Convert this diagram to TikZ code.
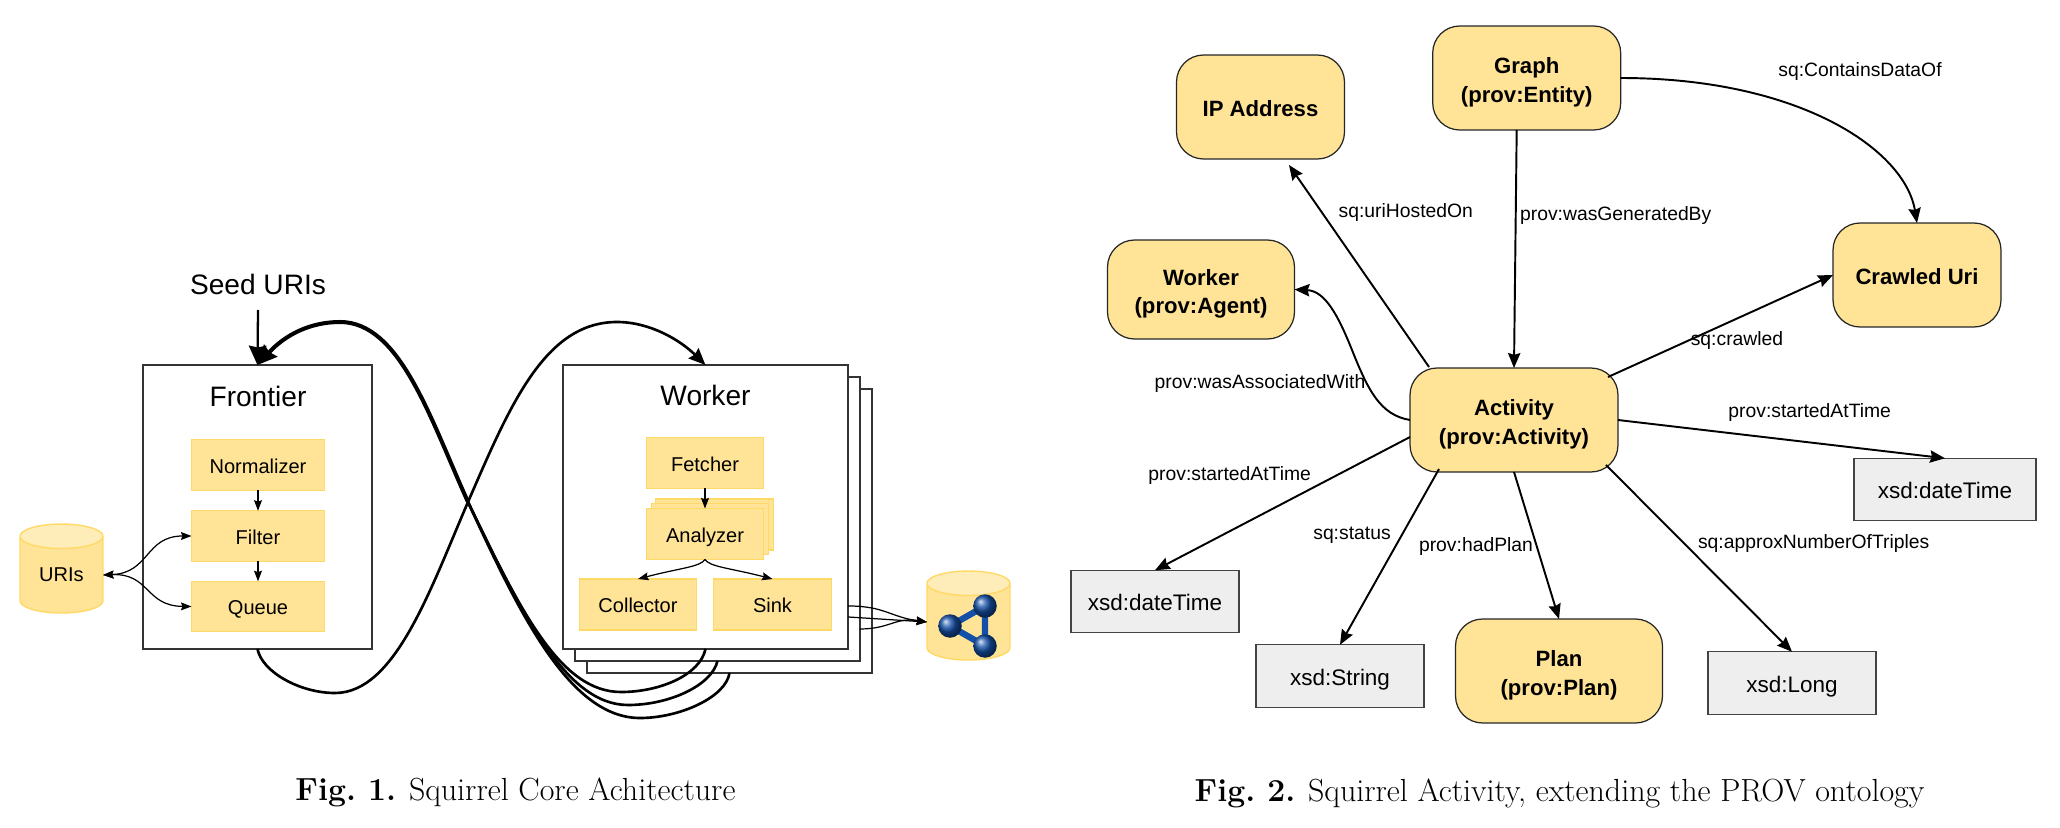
\documentclass[tikz,border=0pt]{standalone}
\usepackage{fontspec}
\newfontfamily\drawfont{Liberation Sans}
\usetikzlibrary{arrows.meta,shapes.geometric}
\definecolor{boxfill}{HTML}{FFE396}
\definecolor{boxline}{HTML}{FFD966}
\definecolor{rimfill}{HTML}{FFEDB9}
\definecolor{greyfill}{HTML}{EEEEEE}
\definecolor{greyline}{HTML}{434343}
\definecolor{ballblue}{HTML}{1450A8}
\newcommand{\topgap}{\rule{0pt}{14pt}}
\tikzset{
    every node/.style={inner sep=0pt, outer sep=0pt},
    bigtext/.style={font=\drawfont\fontsize{16}{19}\selectfont},
    comp/.style={draw=boxline, fill=boxfill, line width=0.6pt, text height=9.6pt, text depth=0pt,
        font=\drawfont\fontsize{11.4}{14}\selectfont},
    frontcomp/.style={comp, minimum width=2.66cm, minimum height=1.01cm},
    workcomp/.style={comp, minimum width=2.35cm, minimum height=1.02cm},
    frame/.style={draw=black!80, fill=white, line width=0.8pt, minimum width=5.7cm, minimum height=5.68cm},
    store/.style={cylinder, shape border rotate=90, aspect=0.55, draw=boxline, line width=0.8pt,
        cylinder uses custom fill, cylinder body fill=boxfill, cylinder end fill=rimfill,
        minimum width=1.66cm, minimum height=1.78cm, font=\drawfont\fontsize{11.4}{14}\selectfont},
    thing/.style={draw=black!85, fill=boxfill, rounded corners=0.54cm, line width=0.7pt, align=center,
        minimum width=3.36cm, minimum height=2.08cm, font=\drawfont\bfseries\fontsize{12.6}{16.2}\selectfont},
    oneliner/.style={thing, text height=10.5pt, text depth=0pt},
    literal/.style={draw=greyline, fill=greyfill, line width=0.8pt, minimum width=3.36cm, minimum height=1.25cm,
        text height=10.3pt, text depth=0pt, font=\drawfont\fontsize{12.8}{15}\selectfont},
    edgetext/.style={font=\drawfont\fontsize{11}{13}\selectfont},
    captext/.style={font=\fontsize{18.2}{22}\selectfont},
    flow/.style={line width=0.7pt, -{Stealth[inset=0.8pt,length=6pt,width=4.5pt]}},
    bothflow/.style={line width=0.7pt, {Stealth[inset=0.8pt,length=6pt,width=4.5pt]}-{Stealth[inset=0.8pt,length=6pt,width=4.5pt]}},
    link/.style={line width=1.1pt, -{Stealth[inset=1pt,length=8.5pt,width=7pt]}},
    loopline/.style={line width=1.5pt}
}
\begin{document}
\begin{tikzpicture}[x=0.02cm,y=-0.02cm]
    \useasboundingbox (0,0) rectangle (2060,828);

    % Frontier
    \node[bigtext] (seed) at (258,284) {Seed URIs};
    \node[frame, minimum width=4.58cm] (frontier) at (257.5,507) {};
    \node[bigtext] (frontiertitle) at (258,396) {Frontier};
    \node[frontcomp] (normalizer) at (258,465) {Normalizer};
    \node[frontcomp] (filter) at (258,536) {Filter};
    \node[frontcomp] (queue) at (258,606.5) {Queue};
    \node[store] (uris) at (61.5,575) {URIs};

    \draw[flow] (normalizer) -- (filter);
    \draw[flow] (filter) -- (queue);
    \draw[bothflow] (uris.east) .. controls (150,573) and (145,536) .. (filter.west);
    \draw[bothflow] (uris.east) .. controls (150,573) and (145,606) .. (queue.west);

    % Worker stack
    \node[frame] (worker3) at (729.5,531) {};
    \node[frame] (worker2) at (717.5,519) {};
    \node[frame] (worker1) at (705.5,507) {};
    \node[bigtext] (workertitle) at (705.5,395) {Worker};
    \node[workcomp] (fetcher) at (705,463) {Fetcher};
    \node[workcomp] (analyzer3) at (714.5,524.5) {};
    \node[workcomp] (analyzer2) at (709.8,529.2) {};
    \node[workcomp] (analyzer) at (705,534) {Analyzer};
    \node[workcomp] (collector) at (638,604.5) {Collector};
    \node[workcomp] (sink) at (772.5,604.5) {Sink};

    \draw[flow] (fetcher) -- (analyzer);
    \draw[flow] (analyzer.south) .. controls (700,567) and (680,568) .. (collector.north);
    \draw[flow] (analyzer.south) .. controls (710,567) and (730,568) .. (sink.north);

    % Triple store
    \node[store] (store) at (968.5,622) {\phantom{URIs}};
    \draw[ballblue, line width=3.6pt] (985,606) -- (950,626) -- (985,646) -- cycle;
    \shade[ball color=ballblue] (985,606) circle (0.235cm);
    \shade[ball color=ballblue] (950,626) circle (0.235cm);
    \shade[ball color=ballblue] (985,646) circle (0.235cm);

    \draw[flow] ([yshift=-1.98cm]worker1.east) .. controls (885,606) and (890,617) .. (store.west);
    \draw[flow] ([yshift=-2.2cm]worker1.east) -- (store.west);
    \draw[flow] ([yshift=-2.2cm]worker2.east) .. controls (890,629) and (895,617) .. (store.west);

    % Loop between frontier and workers
    \draw[loopline, -{Stealth[inset=1pt,length=9.5pt,width=8pt]}] (frontier.south) .. controls (262,672) and (300,693) .. (335,693)
        .. controls (395,693) and (430,590) .. (468,502)
        .. controls (510,405) and (545,322) .. (617,322)
        .. controls (650,322) and (680,340) .. (worker1.north);
    \draw[loopline] (worker1.south) .. controls (700,675) and (660,692) .. (621,692)
        .. controls (560,692) and (520,610) .. (468,502);
    \draw[loopline] (worker2.south) .. controls (712,685) and (670,705) .. (628,705)
        .. controls (565,705) and (520,610) .. (468,502);
    \draw[loopline] (worker3.south) .. controls (726,697) and (680,718) .. (640,718)
        .. controls (570,718) and (520,615) .. (468,502);
    \draw[line width=2.3pt, -{Stealth[inset=1pt,length=11pt,width=10pt]}] (468,502) .. controls (430,418) and (400,322) .. (340,322)
        .. controls (310,322) and (285,335) .. (frontier.north);
    \draw[line width=1.3pt, -{Stealth[inset=1pt,length=11pt,width=10pt]}] (seed.south |- 0,310) -- (frontier.north);

    % Activity graph
    \node[oneliner] (ip) at (1260.5,107) {IP Address};
    \node[thing, minimum width=3.76cm] (graph) at (1526.7,78) {\topgap Graph\\(prov:Entity)};
    \node[thing, minimum width=3.74cm, minimum height=1.98cm] (agent) at (1201,289.5) {\topgap Worker\\(prov:Agent)};
    \node[oneliner] (crawled) at (1917,275) {Crawled Uri};
    \node[thing, minimum width=4.16cm] (activity) at (1514,420) {\topgap Activity\\(prov:Activity)};
    \node[thing, minimum width=4.14cm] (plan) at (1559,671) {\topgap Plan\\(prov:Plan)};
    \node[literal] (dateleft) at (1155,601.5) {xsd:dateTime};
    \node[literal] (stringtype) at (1340,676) {xsd:String};
    \node[literal] (longtype) at (1792,683) {xsd:Long};
    \node[literal, minimum width=3.64cm] (dateright) at (1945,489.5) {xsd:dateTime};

    \draw[link] ([xshift=-0.2cm]graph.south) -- (activity.north);
    \draw[link] (graph.east) .. controls (1800,78) and (1905,150) .. (crawled.north);
    \draw[link] ([shift={(19,-1)}]activity.north west) -- ([shift={(28.5,6)}]ip.south);
    \draw[link] (activity.west) .. controls (1380,415) and (1368,390) .. (1352,350)
        .. controls (1338,315) and (1325,291) .. (agent.east);
    \draw[link] ([shift={(-10,9)}]activity.north east) -- (crawled.west);
    \draw[link] (activity.east) -- (dateright.north);
    \draw[link] ([shift={(0,17)}]activity.west) -- (dateleft.north);
    \draw[link] ([shift={(29,-3)}]activity.south west) -- (stringtype.north);
    \draw[link] (activity.south) -- (plan.north);
    \draw[link] ([shift={(-12,-7)}]activity.south east) -- (longtype.north);

    % Labels
    \node[edgetext] (l1) at (1405.8,212.5) {sq:uriHostedOn};
    \node[edgetext] (l2) at (1615.7,216) {prov:wasGeneratedBy};
    \node[edgetext] (l3) at (1860,72) {sq:ContainsDataOf};
    \node[edgetext] (l4) at (1260,384) {prov:wasAssociatedWith};
    \node[edgetext] (l5) at (1737,340.7) {sq:crawled};
    \node[edgetext] (l6) at (1809.7,412.7) {prov:startedAtTime};
    \node[edgetext] (l7) at (1229.7,475) {prov:startedAtTime};
    \node[edgetext] (l8) at (1352,535) {sq:status};
    \node[edgetext] (l9) at (1476,546.7) {prov:hadPlan};
    \node[edgetext] (l10) at (1813.7,543.7) {sq:approxNumberOfTriples};

    % Captions
    \node[captext] (cap1) at (515.5,792) {\textbf{Fig.\ 1.} Squirrel Core Achitecture};
    \node[captext] (cap2) at (1559.5,793) {\textbf{Fig.\ 2.} Squirrel Activity, extending the PROV ontology};
\end{tikzpicture}
\end{document}
